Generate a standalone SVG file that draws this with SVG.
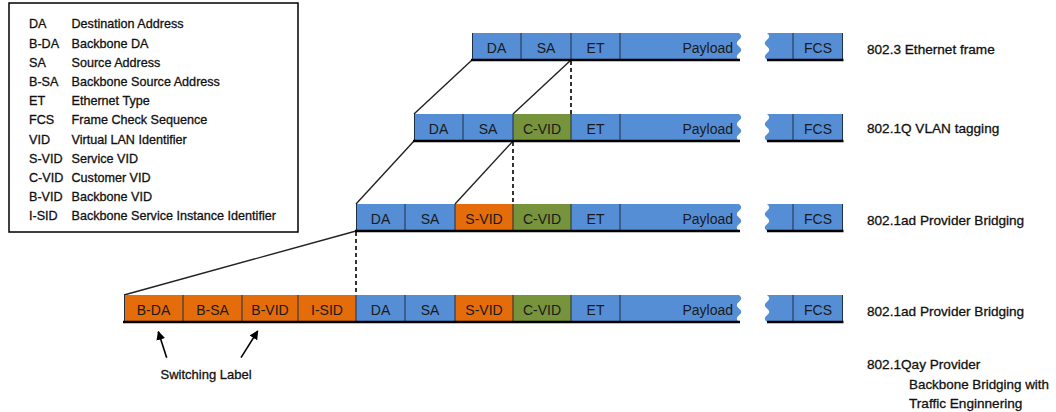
<svg xmlns="http://www.w3.org/2000/svg" width="1056" height="412" viewBox="0 0 1056 412">
  <style>
    .blue { fill: #558ED5; }
    .orange { fill: #E46C0A; }
    .green { fill: #77933C; }
    .div { stroke: #1E2F48; stroke-width: 1; }
    .base { stroke: #000; stroke-width: 2.5; }
    .f { font-family: "Liberation Sans", Arial, sans-serif; font-size: 14px; fill: #1a1a1a; text-anchor: middle; }
    .fe { text-anchor: end; }
    .lg { font-family: "Liberation Sans", Arial, sans-serif; font-size: 12.6px; fill: #111; stroke: #111; stroke-width: 0.3; }
    .lbl { font-family: "Liberation Sans", Arial, sans-serif; font-size: 13.6px; fill: #111; stroke: #111; stroke-width: 0.3; }
    .link { stroke: #222; stroke-width: 1.4; fill: none; }
    .dash { stroke: #000; stroke-width: 1.6; stroke-dasharray: 4 3; fill: none; }
    .arr { stroke: #000; stroke-width: 1.6; fill: none; }
  </style>
  <defs>
    <marker id="head" viewBox="0 0 10 10" refX="9" refY="5" markerWidth="9" markerHeight="9" markerUnits="userSpaceOnUse" orient="auto">
      <path d="M0,0 L10,5 L0,10 Z" fill="#000"/>
    </marker>
  </defs>

  <!-- abbreviation legend -->
  <g id="legend">
    <rect x="9" y="3" width="289" height="229" fill="#fff" stroke="#000" stroke-width="1.5"/>
    <text class="lg" x="29" y="28.3">DA</text><text class="lg" x="71.5" y="28.3">Destination Address</text>
    <text class="lg" x="29" y="47.5">B-DA</text><text class="lg" x="71.5" y="47.5">Backbone DA</text>
    <text class="lg" x="29" y="66.7">SA</text><text class="lg" x="71.5" y="66.7">Source Address</text>
    <text class="lg" x="29" y="85.9">B-SA</text><text class="lg" x="71.5" y="85.9">Backbone Source Address</text>
    <text class="lg" x="29" y="105.1">ET</text><text class="lg" x="71.5" y="105.1">Ethernet Type</text>
    <text class="lg" x="29" y="124.3">FCS</text><text class="lg" x="71.5" y="124.3">Frame Check Sequence</text>
    <text class="lg" x="29" y="143.5">VID</text><text class="lg" x="71.5" y="143.5">Virtual LAN Identifier</text>
    <text class="lg" x="29" y="162.7">S-VID</text><text class="lg" x="71.5" y="162.7">Service VID</text>
    <text class="lg" x="29" y="181.9">C-VID</text><text class="lg" x="71.5" y="181.9">Customer VID</text>
    <text class="lg" x="29" y="201.1">B-VID</text><text class="lg" x="71.5" y="201.1">Backbone VID</text>
    <text class="lg" x="29" y="220.3">I-SID</text><text class="lg" x="71.5" y="220.3">Backbone Service Instance Identifier</text>
  </g>

  <!-- connectors between frame generations -->
  <g id="connectors">
    <line class="link" x1="472" y1="60" x2="414" y2="114"/>
    <line class="link" x1="571" y1="60" x2="513" y2="114"/>
    <line class="dash" x1="571" y1="61" x2="571" y2="114"/>
    <line class="link" x1="414" y1="141" x2="356" y2="204"/>
    <line class="link" x1="513" y1="141" x2="455" y2="204"/>
    <line class="dash" x1="513" y1="142" x2="513" y2="204"/>
    <line class="link" x1="356" y1="231" x2="124" y2="295"/>
    <line class="dash" x1="356" y1="232" x2="356" y2="295"/>
    <line class="arr" x1="166.7" y1="357.7" x2="158.3" y2="331.7" marker-end="url(#head)"/>
    <line class="arr" x1="241" y1="357.7" x2="257.7" y2="331" marker-end="url(#head)"/>
  </g>

  <!-- 802.3 Ethernet frame -->
  <g id="frame-8023">
    <rect class="blue" x="472" y="33" width="148" height="27"/>
    <path class="blue" d="M620,33 H739 q4.5,3.375 0,6.75 t0,6.75 t0,6.75 t0,6.75 H620 Z"/>
    <path class="blue" d="M767,33 q4.5,3.375 0,6.75 t0,6.75 t0,6.75 t0,6.75 H843 V33 Z"/>
    <line class="div" x1="472.5" y1="33" x2="472.5" y2="60"/>
    <line class="div" x1="521" y1="33" x2="521" y2="60"/>
    <line class="div" x1="571" y1="33" x2="571" y2="60"/>
    <line class="div" x1="620" y1="33" x2="620" y2="60"/>
    <line class="div" x1="793" y1="33" x2="793" y2="60"/>
    <line class="div" x1="842.5" y1="33" x2="842.5" y2="60"/>
    <line class="base" x1="471" y1="60" x2="740" y2="60"/>
    <line class="base" x1="767" y1="60" x2="843.5" y2="60"/>
    <text class="f" x="496.5" y="52.5">DA</text>
    <text class="f" x="546" y="52.5">SA</text>
    <text class="f" x="595.5" y="52.5">ET</text>
    <text class="f fe" x="733" y="52.5">Payload</text>
    <text class="f" x="818" y="52.5">FCS</text>
  </g>

  <!-- 802.1Q VLAN tagging -->
  <g id="frame-8021q">
    <rect class="blue" x="414" y="114" width="99" height="27"/>
    <rect class="green" x="513" y="114" width="58" height="27"/>
    <rect class="blue" x="571" y="114" width="49" height="27"/>
    <path class="blue" d="M620,114 H739 q4.5,3.375 0,6.75 t0,6.75 t0,6.75 t0,6.75 H620 Z"/>
    <path class="blue" d="M767,114 q4.5,3.375 0,6.75 t0,6.75 t0,6.75 t0,6.75 H843 V114 Z"/>
    <line class="div" x1="414.5" y1="114" x2="414.5" y2="141"/>
    <line class="div" x1="463" y1="114" x2="463" y2="141"/>
    <line class="div" x1="513" y1="114" x2="513" y2="141"/>
    <line class="div" x1="571" y1="114" x2="571" y2="141"/>
    <line class="div" x1="620" y1="114" x2="620" y2="141"/>
    <line class="div" x1="793" y1="114" x2="793" y2="141"/>
    <line class="div" x1="842.5" y1="114" x2="842.5" y2="141"/>
    <line class="base" x1="413" y1="141" x2="740" y2="141"/>
    <line class="base" x1="767" y1="141" x2="843.5" y2="141"/>
    <text class="f" x="438.5" y="133.5">DA</text>
    <text class="f" x="488" y="133.5">SA</text>
    <text class="f" x="542" y="133.5">C-VID</text>
    <text class="f" x="595.5" y="133.5">ET</text>
    <text class="f fe" x="733" y="133.5">Payload</text>
    <text class="f" x="818" y="133.5">FCS</text>
  </g>

  <!-- 802.1ad Provider Bridging -->
  <g id="frame-8021ad">
    <rect class="blue" x="356" y="204" width="99" height="27"/>
    <rect class="orange" x="455" y="204" width="58" height="27"/>
    <rect class="green" x="513" y="204" width="58" height="27"/>
    <rect class="blue" x="571" y="204" width="49" height="27"/>
    <path class="blue" d="M620,204 H739 q4.5,3.375 0,6.75 t0,6.75 t0,6.75 t0,6.75 H620 Z"/>
    <path class="blue" d="M767,204 q4.5,3.375 0,6.75 t0,6.75 t0,6.75 t0,6.75 H843 V204 Z"/>
    <line class="div" x1="356.5" y1="204" x2="356.5" y2="231"/>
    <line class="div" x1="405" y1="204" x2="405" y2="231"/>
    <line class="div" x1="455" y1="204" x2="455" y2="231"/>
    <line class="div" x1="513" y1="204" x2="513" y2="231"/>
    <line class="div" x1="571" y1="204" x2="571" y2="231"/>
    <line class="div" x1="620" y1="204" x2="620" y2="231"/>
    <line class="div" x1="793" y1="204" x2="793" y2="231"/>
    <line class="div" x1="842.5" y1="204" x2="842.5" y2="231"/>
    <line class="base" x1="355" y1="231" x2="740" y2="231"/>
    <line class="base" x1="767" y1="231" x2="843.5" y2="231"/>
    <text class="f" x="380.5" y="223.5">DA</text>
    <text class="f" x="430" y="223.5">SA</text>
    <text class="f" x="484" y="223.5">S-VID</text>
    <text class="f" x="542" y="223.5">C-VID</text>
    <text class="f" x="595.5" y="223.5">ET</text>
    <text class="f fe" x="733" y="223.5">Payload</text>
    <text class="f" x="818" y="223.5">FCS</text>
  </g>

  <!-- 802.1Qay backbone frame -->
  <g id="frame-8021qay">
    <rect class="orange" x="124" y="295" width="232" height="27"/>
    <rect class="blue" x="356" y="295" width="99" height="27"/>
    <rect class="orange" x="455" y="295" width="58" height="27"/>
    <rect class="green" x="513" y="295" width="58" height="27"/>
    <rect class="blue" x="571" y="295" width="49" height="27"/>
    <path class="blue" d="M620,295 H739 q4.5,3.375 0,6.75 t0,6.75 t0,6.75 t0,6.75 H620 Z"/>
    <path class="blue" d="M767,295 q4.5,3.375 0,6.75 t0,6.75 t0,6.75 t0,6.75 H843 V295 Z"/>
    <line class="div" x1="124.5" y1="295" x2="124.5" y2="322"/>
    <line class="div" x1="183" y1="295" x2="183" y2="322"/>
    <line class="div" x1="242" y1="295" x2="242" y2="322"/>
    <line class="div" x1="298" y1="295" x2="298" y2="322"/>
    <line class="div" x1="356" y1="295" x2="356" y2="322"/>
    <line class="div" x1="405" y1="295" x2="405" y2="322"/>
    <line class="div" x1="455" y1="295" x2="455" y2="322"/>
    <line class="div" x1="513" y1="295" x2="513" y2="322"/>
    <line class="div" x1="571" y1="295" x2="571" y2="322"/>
    <line class="div" x1="620" y1="295" x2="620" y2="322"/>
    <line class="div" x1="793" y1="295" x2="793" y2="322"/>
    <line class="div" x1="842.5" y1="295" x2="842.5" y2="322"/>
    <line class="base" x1="123" y1="322" x2="740" y2="322"/>
    <line class="base" x1="767" y1="322" x2="843.5" y2="322"/>
    <text class="f" x="153.5" y="314.5">B-DA</text>
    <text class="f" x="212.5" y="314.5">B-SA</text>
    <text class="f" x="270" y="314.5">B-VID</text>
    <text class="f" x="327" y="314.5">I-SID</text>
    <text class="f" x="380.5" y="314.5">DA</text>
    <text class="f" x="430" y="314.5">SA</text>
    <text class="f" x="484" y="314.5">S-VID</text>
    <text class="f" x="542" y="314.5">C-VID</text>
    <text class="f" x="595.5" y="314.5">ET</text>
    <text class="f fe" x="733" y="314.5">Payload</text>
    <text class="f" x="818" y="314.5">FCS</text>
  </g>

  <!-- frame captions -->
  <g id="captions">
    <text class="lbl" x="867" y="54">802.3 Ethernet frame</text>
    <text class="lbl" x="867" y="133">802.1Q VLAN tagging</text>
    <text class="lbl" x="867" y="225">802.1ad Provider Bridging</text>
    <text class="lbl" x="867" y="316">802.1ad Provider Bridging</text>
    <text class="lbl" x="867" y="369">802.1Qay Provider</text>
    <text class="lbl" x="909" y="389" textLength="140" lengthAdjust="spacingAndGlyphs">Backbone Bridging with</text>
    <text class="lbl" x="909" y="408">Traffic Enginnering</text>
  </g>

  <g id="switching-label">
    <text class="lbl" x="160.5" y="379" style="font-size:13px">Switching Label</text>
  </g>
</svg>
